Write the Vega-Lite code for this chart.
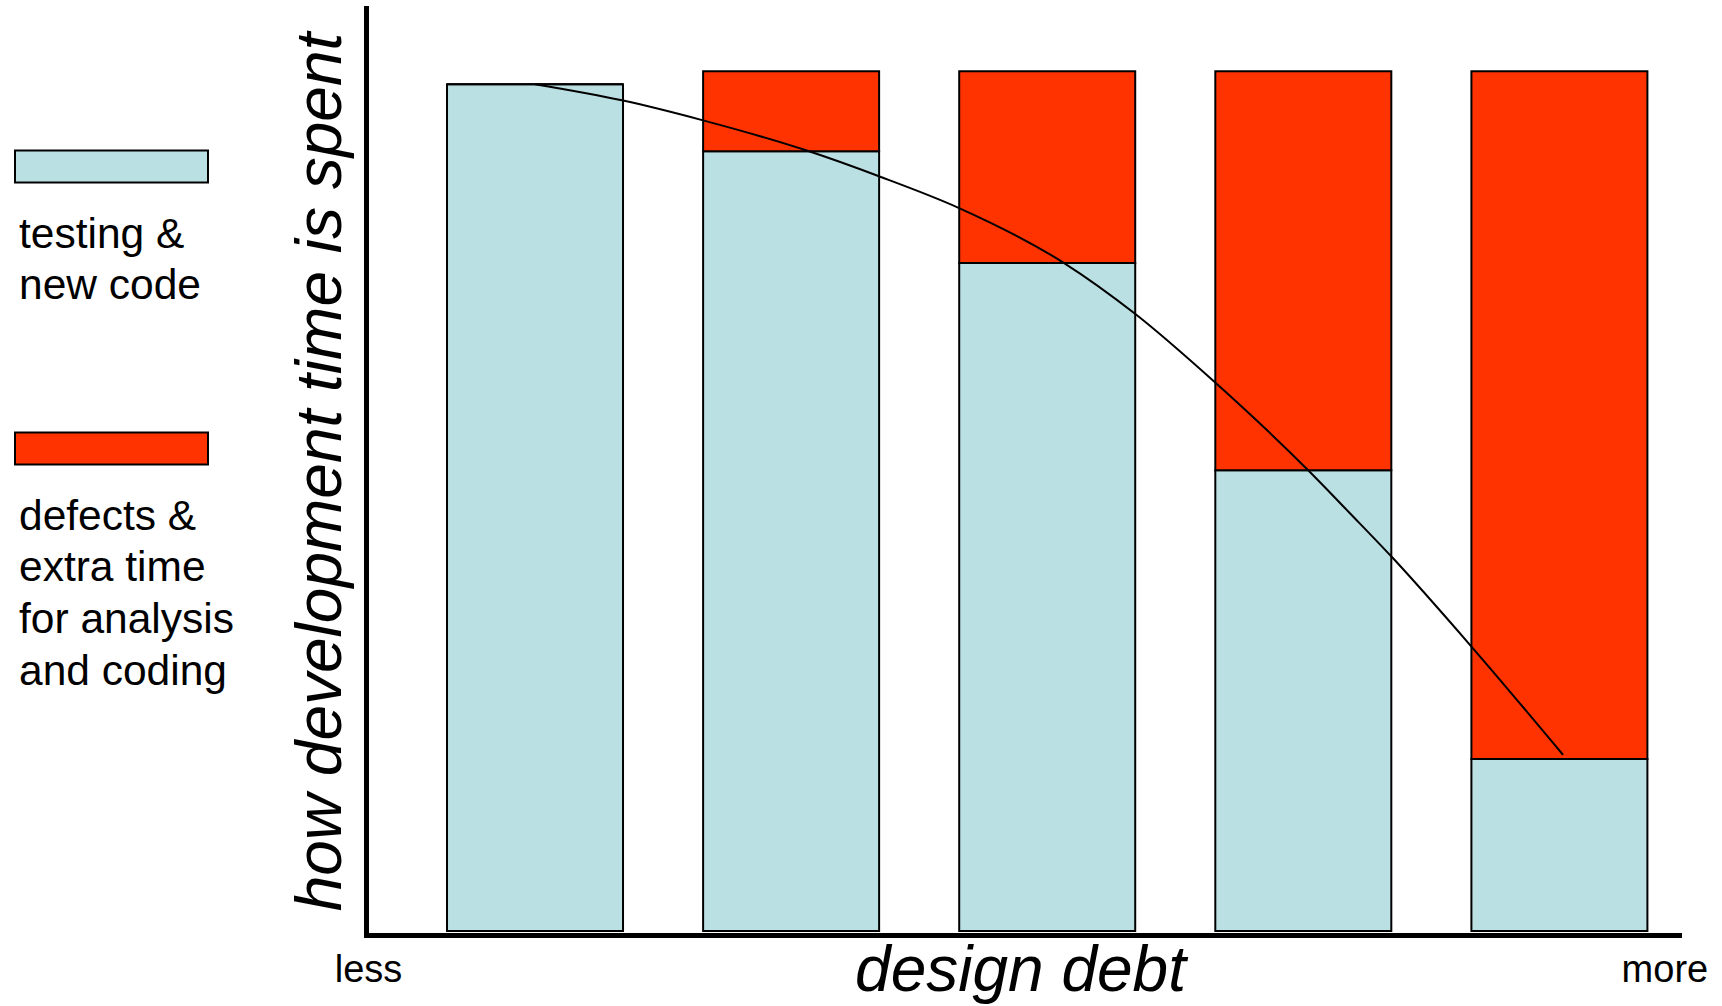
{
  "$schema": "https://vega.github.io/schema/vega-lite/v6.json",
  "width": 1313,
  "height": 927,
  "autosize": {"type": "none"},
  "padding": {"left": 366, "top": 8, "right": 43, "bottom": 71},
  "background": "white",
  "config": {"view": {"stroke": null}, "font": "Liberation Sans"},
  "datasets": {
    "bars": [
      {"level": 1, "series": "testing & new code", "share": 98.5},
      {"level": 1, "series": "defects & extra time for analysis and coding", "share": 0},
      {"level": 2, "series": "testing & new code", "share": 90.7},
      {"level": 2, "series": "defects & extra time for analysis and coding", "share": 9.3},
      {"level": 3, "series": "testing & new code", "share": 77.7},
      {"level": 3, "series": "defects & extra time for analysis and coding", "share": 22.3},
      {"level": 4, "series": "testing & new code", "share": 53.6},
      {"level": 4, "series": "defects & extra time for analysis and coding", "share": 46.4},
      {"level": 5, "series": "testing & new code", "share": 20.0},
      {"level": 5, "series": "defects & extra time for analysis and coding", "share": 80.0}
    ],
    "curve": [
      {"debt": 1.0, "share": 98.5},
      {"debt": 1.344, "share": 96.6},
      {"debt": 1.656, "share": 94.3},
      {"debt": 2.07, "share": 90.7},
      {"debt": 2.343, "share": 87.8},
      {"debt": 2.656, "share": 84.1},
      {"debt": 3.066, "share": 77.7},
      {"debt": 3.343, "share": 71.8},
      {"debt": 3.656, "share": 63.8},
      {"debt": 4.019, "share": 53.6},
      {"debt": 4.182, "share": 48.6},
      {"debt": 4.346, "share": 43.5},
      {"debt": 4.659, "share": 33.0},
      {"debt": 5.014, "share": 20.5}
    ]
  },
  "layer": [
    {
      "data": {"name": "bars"},
      "mark": {"type": "bar", "size": 176, "stroke": "black", "strokeWidth": 2, "opacity": 1},
      "encoding": {
        "x": {
          "field": "level",
          "type": "quantitative",
          "scale": {"domain": [0.34, 5.467], "nice": false, "zero": false, "padding": 0},
          "axis": {
            "title": "design debt",
            "titleFont": "Liberation Sans",
            "titleFontStyle": "italic",
            "titleFontWeight": "normal",
            "titleFontSize": 64,
            "titleColor": "black",
            "titleBaseline": "alphabetic",
            "titleX": 654,
            "titleY": 55,
            "domainColor": "black",
            "domainWidth": 5,
            "domainCap": "square",
            "ticks": false,
            "grid": false,
            "values": [0.348, 5.41],
            "labelExpr": "datum.value < 3 ? 'less' : 'more'",
            "labelFont": "Liberation Sans",
            "labelFontSize": 38,
            "labelColor": "black",
            "labelFlush": false,
            "labelOverlap": false,
            "labelBaseline": "alphabetic",
            "labelPadding": 46
          }
        },
        "y": {
          "field": "share",
          "type": "quantitative",
          "stack": "zero",
          "scale": {"domain": [-0.465, 107.37], "nice": false, "zero": false, "padding": 0},
          "axis": {
            "title": "how development time is spent",
            "titleFont": "Liberation Sans",
            "titleFontStyle": "italic",
            "titleFontWeight": "normal",
            "titleFontSize": 64,
            "titleColor": "black",
            "titleBaseline": "alphabetic",
            "titleX": -26,
            "labels": false,
            "ticks": false,
            "grid": false,
            "domainColor": "black",
            "domainWidth": 5,
            "domainCap": "square"
          }
        },
        "color": {
          "field": "series",
          "type": "nominal",
          "scale": {
            "domain": ["testing & new code", "defects & extra time for analysis and coding"],
            "range": ["#BBE0E3", "#FF3300"]
          },
          "legend": {
            "orient": "none",
            "legendX": -352,
            "legendY": 61,
            "title": null,
            "padding": 0,
            "symbolType": "M-1,-0.1658H1V0.1658H-1Z",
            "symbolSize": 37249,
            "symbolStrokeColor": "black",
            "symbolStrokeWidth": 2,
            "symbolOpacity": 1,
            "labelFont": "Liberation Sans",
            "labelFontSize": 42.5,
            "labelColor": "black",
            "labelLimit": 0,
            "labelBaseline": "alphabetic",
            "labelOffset": 0,
            "rowPadding": 43,
            "labelExpr": "datum.label == 'testing & new code' ? ['testing &', 'new code'] : ['defects &', 'extra time', 'for analysis', 'and coding']",
            "encoding": {
              "labels": {"dx": {"value": -190}, "dy": {"value": 81}, "lineHeight": {"value": 51.8}},
              "symbols": {"stroke": {"value": "black"}, "strokeWidth": {"value": 2}}
            }
          }
        },
        "order": {"field": "series", "sort": "descending"}
      }
    },
    {
      "data": {"name": "curve"},
      "mark": {"type": "line", "color": "black", "strokeWidth": 2, "interpolate": "monotone"},
      "encoding": {
        "x": {"field": "debt", "type": "quantitative", "title": "design debt"},
        "y": {"field": "share", "type": "quantitative", "title": "how development time is spent"}
      }
    }
  ]
}
